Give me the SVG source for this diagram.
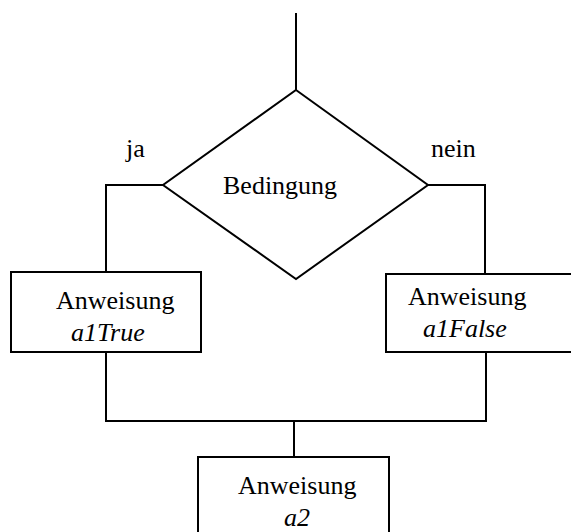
<svg xmlns="http://www.w3.org/2000/svg" width="571" height="532" viewBox="0 0 571 532">
  <style>
    .shape { fill: #ffffff; stroke: #000000; stroke-width: 2; }
    .wire { fill: none; stroke: #000000; stroke-width: 2; }
    .lbl { font-family: 'Liberation Serif', 'Times New Roman', Times, serif; font-size: 26px; fill: #000000; }
    .var { font-style: italic; }
  </style>
  <rect width="571" height="532" fill="#ffffff"/>

  <!-- connectors: entry line, branch lines, merge line -->
  <g id="connectors">
    <path class="wire" d="M296 13 V90"/>
    <path class="wire" d="M163 185 H106 V272"/>
    <path class="wire" d="M428 185 H485 V274"/>
    <path class="wire" d="M106 352 V421 H486 V352"/>
    <path class="wire" d="M294 421 V457"/>
    <text class="lbl" x="126" y="157">ja</text>
    <text class="lbl" x="431" y="157">nein</text>
  </g>

  <!-- decision -->
  <g id="condition">
    <polygon class="shape" points="296,90 428,185 296,279 163,185"/>
    <text class="lbl" x="223" y="194">Bedingung</text>
  </g>

  <!-- true branch -->
  <g id="a1True">
    <rect class="shape" x="11" y="272" width="190" height="80"/>
    <text class="lbl" x="56" y="309">Anweisung</text>
    <text class="lbl var" x="71" y="341">a1True</text>
  </g>

  <!-- false branch -->
  <g id="a1False">
    <rect class="shape" x="386" y="274" width="200" height="78"/>
    <text class="lbl" x="408" y="305">Anweisung</text>
    <text class="lbl var" x="423" y="337">a1False</text>
  </g>

  <!-- following statement -->
  <g id="a2">
    <rect class="shape" x="198" y="457" width="191" height="100"/>
    <text class="lbl" x="238" y="494">Anweisung</text>
    <text class="lbl var" x="284" y="526">a2</text>
  </g>
</svg>
